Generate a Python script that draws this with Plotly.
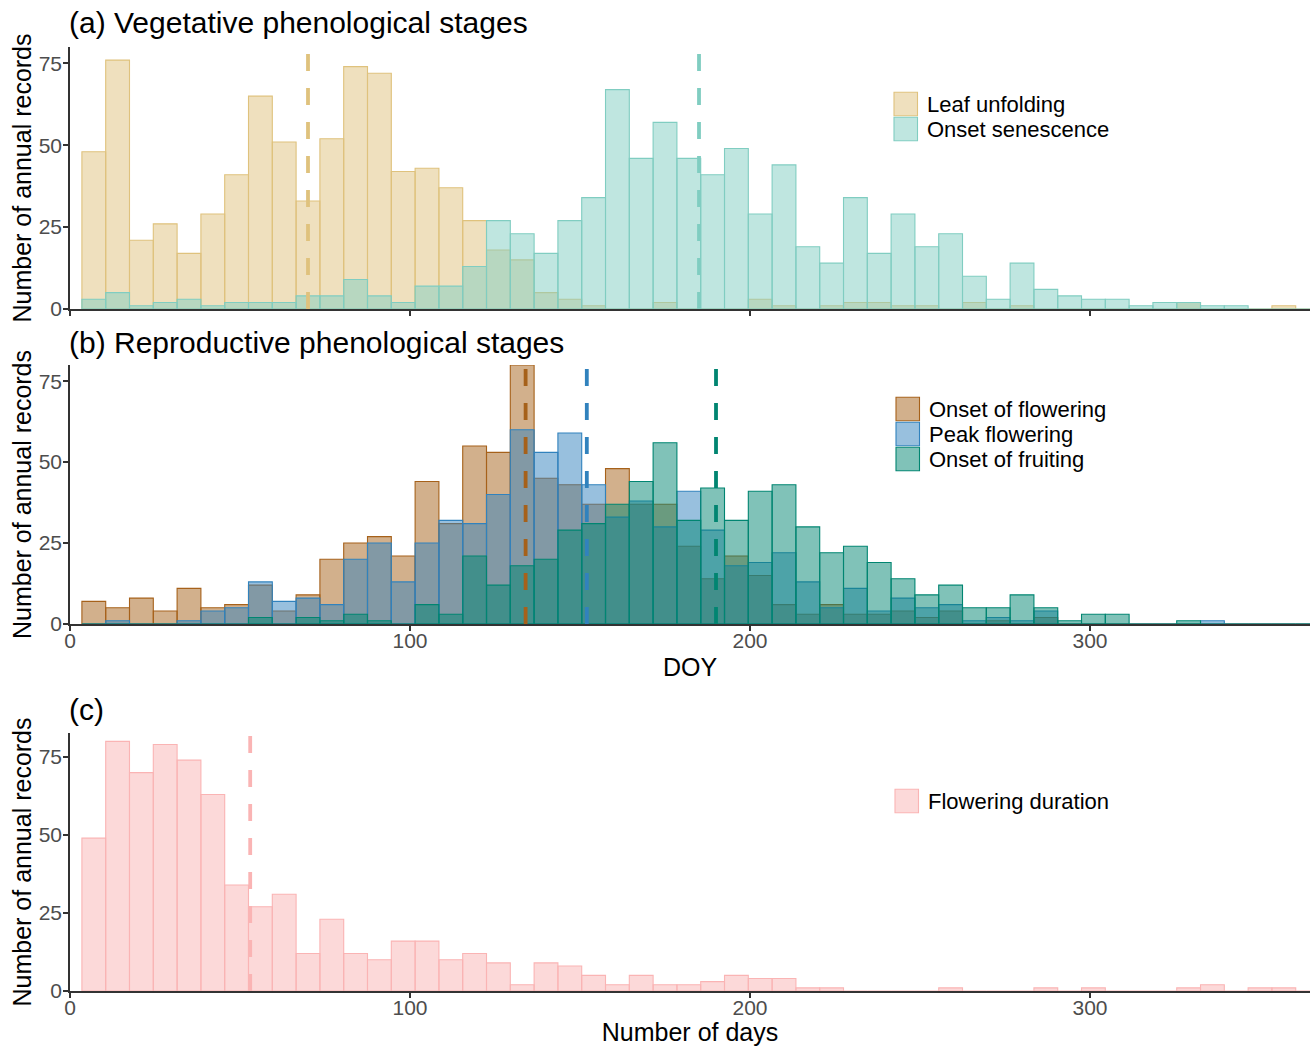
import plotly.graph_objects as go

W, H = 1315, 1046

# ---------------- data ----------------
bin_centers = [7, 14, 21, 28, 35, 42, 49, 56, 63, 70, 77, 84, 91, 98, 105, 112, 119, 126,
               133, 140, 147, 154, 161, 168, 175, 182, 189, 196, 203, 210, 217, 224, 231,
               238, 245, 252, 259, 266, 273, 280, 287, 294, 301, 308, 315, 322, 329, 336,
               343, 350, 357, 364]
bin_width = 7

leaf_unfolding = [48, 76, 21, 26, 17, 29, 41, 65, 51, 33, 52, 74, 72, 42, 43, 37, 27, 18,
                  15, 5, 3, 1, 0, 0, 2, 0, 0, 0, 3, 1, 0, 1, 2, 2, 1, 1, 0, 2, 0, 1, 0, 0,
                  0, 0, 0, 0, 2, 0, 0, 0, 1, 0]
onset_senescence = [3, 5, 1, 2, 3, 1, 2, 2, 2, 4, 4, 9, 4, 2, 7, 7, 13, 27, 23, 17, 27, 34,
                    67, 46, 57, 46, 41, 49, 29, 44, 19, 14, 34, 17, 29, 19, 23, 10, 3, 14, 6,
                    4, 3, 3, 1, 2, 2, 1, 1, 0, 0, 0]

onset_flowering = [7, 5, 8, 4, 11, 5, 6, 12, 4, 9, 20, 25, 27, 21, 44, 31, 55, 53, 80, 45,
                   43, 37, 48, 37, 37, 24, 14, 21, 15, 6, 3, 6, 3, 3, 4, 2, 4, 0, 1, 0, 2,
                   0, 0, 0, 0, 0, 0, 0, 0, 0, 0, 0]
peak_flowering = [0, 1, 0, 0, 1, 4, 5, 13, 7, 8, 6, 20, 25, 13, 25, 32, 31, 40, 60, 53, 59,
                  43, 33, 38, 30, 41, 29, 18, 19, 22, 13, 5, 11, 4, 8, 5, 6, 1, 2, 1, 4, 0,
                  0, 0, 0, 0, 0, 1, 0, 0, 0, 0]
onset_fruiting = [0, 0, 0, 0, 0, 0, 0, 2, 0, 2, 1, 3, 1, 0, 6, 3, 21, 12, 18, 20, 29, 31,
                  37, 44, 56, 32, 42, 32, 41, 43, 30, 22, 24, 19, 14, 9, 12, 5, 5, 9, 5, 1,
                  3, 3, 0, 0, 1, 0, 0, 0, 0, 0]

flowering_duration = [49, 80, 70, 79, 74, 63, 34, 27, 31, 12, 23, 12, 10, 16, 16, 10, 12, 9,
                      2, 9, 8, 5, 2, 5, 2, 2, 3, 5, 4, 4, 1, 1, 0, 0, 0, 0, 1, 0, 0, 0, 1,
                      0, 1, 0, 0, 0, 1, 2, 0, 1, 1, 0]

# medians (dashed lines)
median_leaf = 70
median_senescence = 185
median_onset_flowering = 134
median_peak_flowering = 152
median_onset_fruiting = 190
median_duration = 53

panel_titles = ["(a) Vegetative phenological stages",
                "(b) Reproductive phenological stages",
                "(c)"]
y_title = "Number of annual records"
x_titles = ["", "DOY", "Number of days"]
y_tick_vals = [0, 25, 50, 75]
x_tick_vals = [0, 100, 200, 300]

names_a = ["Leaf unfolding", "Onset senescence"]
names_b = ["Onset of flowering", "Peak flowering", "Onset of fruiting"]
names_c = ["Flowering duration"]

col_leaf = (223, 194, 125)
col_sen = (128, 205, 193)
col_flow = (166, 97, 26)
col_peak = (49, 130, 189)
col_fruit = (1, 133, 113)
col_dur = (250, 180, 180)

FONT = "Liberation Sans, Arial, sans-serif"


def rgb(c):
    return "rgb(%d,%d,%d)" % c


def rgba(c, a=0.5):
    return "rgba(%d,%d,%d,%.2f)" % (c[0], c[1], c[2], a)


def py(p):
    return 1 - p / H


def pxx(p):
    return p / W


fig = go.Figure()

series = [
    ("x", "y", names_a[0], leaf_unfolding, col_leaf),
    ("x", "y", names_a[1], onset_senescence, col_sen),
    ("x2", "y2", names_b[0], onset_flowering, col_flow),
    ("x2", "y2", names_b[1], peak_flowering, col_peak),
    ("x2", "y2", names_b[2], onset_fruiting, col_fruit),
    ("x3", "y3", names_c[0], flowering_duration, col_dur),
]
for xa, ya, name, vals, col in series:
    fig.add_trace(go.Bar(
        x=bin_centers, y=vals, width=bin_width, name=name,
        xaxis=xa, yaxis=ya, showlegend=False,
        marker=dict(color=rgba(col), line=dict(color=rgb(col), width=1.1)),
    ))

medians = [
    ("x", "y", median_leaf, col_leaf),
    ("x", "y", median_senescence, col_sen),
    ("x2", "y2", median_onset_flowering, col_flow),
    ("x2", "y2", median_peak_flowering, col_peak),
    ("x2", "y2", median_onset_fruiting, col_fruit),
    ("x3", "y3", median_duration, col_dur),
]
shapes = []
for xa, ya, m, col in medians:
    shapes.append(dict(type="line", xref=xa, yref=ya + " domain", x0=m, x1=m, y0=0, y1=1,
                       line=dict(color=rgb(col), width=3.8, dash="17px,17px"), layer="above"))

# panel geometry (pixels)
x_left, x_right = 70, 1310
panels = [(47, 309, [0, 80]), (365, 624, [0, 80]), (733, 991, [0, 82.7])]
x_title_standoff = [0, 8, 1]

axis_common = dict(showline=True, linecolor="#333333", linewidth=1.5, ticks="outside",
                   ticklen=5, tickwidth=1.5, tickcolor="#333333", showgrid=False,
                   zeroline=False, automargin=False,
                   tickfont=dict(family=FONT, size=21, color="#4D4D4D"))

layout_axes = {}
for i, (top, bot, yr) in enumerate(panels):
    sfx = "" if i == 0 else str(i + 1)
    layout_axes["xaxis" + sfx] = dict(
        axis_common, domain=[pxx(x_left), pxx(x_right)], range=[0, 364.7],
        anchor="y" + sfx, tickvals=x_tick_vals, showticklabels=(i > 0),
        ticklabelstandoff=-8,
        title=dict(text=x_titles[i], font=dict(family=FONT, size=25, color="black"),
                   standoff=x_title_standoff[i]),
    )
    layout_axes["yaxis" + sfx] = dict(
        axis_common, domain=[py(bot), py(top)], range=yr, anchor="x" + sfx,
        tickvals=y_tick_vals, ticklabelstandoff=-3,
        title=dict(text=y_title, font=dict(family=FONT, size=25, color="black"),
                   standoff=0),
    )

annotations = []
title_y = [22, 342, 709]
for t, yy in zip(panel_titles, title_y):
    annotations.append(dict(text=t, xref="paper", yref="paper", x=pxx(67), y=py(yy),
                            xanchor="left", yanchor="middle", showarrow=False,
                            font=dict(family=FONT, size=30, color="black")))

# legends (ggplot-style keys)
legend_specs = [
    (names_a, [col_leaf, col_sen], 894, 104),
    (names_b, [col_flow, col_peak, col_fruit], 896, 409),
    (names_c, [col_dur], 895, 801),
]
for names, cols, kx, cy0 in legend_specs:
    for j, (nm, col) in enumerate(zip(names, cols)):
        cy = cy0 + 25 * j
        shapes.append(dict(type="rect", xref="paper", yref="paper",
                           x0=pxx(kx), x1=pxx(kx + 23.5), y0=py(cy + 11.7), y1=py(cy - 11.7),
                           fillcolor=rgba(col), line=dict(color=rgb(col), width=1.1),
                           layer="above"))
        annotations.append(dict(text=nm, xref="paper", yref="paper", x=pxx(kx + 31),
                                y=py(cy), xanchor="left", yanchor="middle", showarrow=False,
                                font=dict(family=FONT, size=22, color="black")))

fig.update_layout(
    width=W, height=H, margin=dict(l=0, r=0, t=0, b=0),
    paper_bgcolor="white", plot_bgcolor="white",
    barmode="overlay", showlegend=False,
    font=dict(family=FONT),
    shapes=shapes, annotations=annotations,
    **layout_axes,
)

fig.write_html("out.html")
